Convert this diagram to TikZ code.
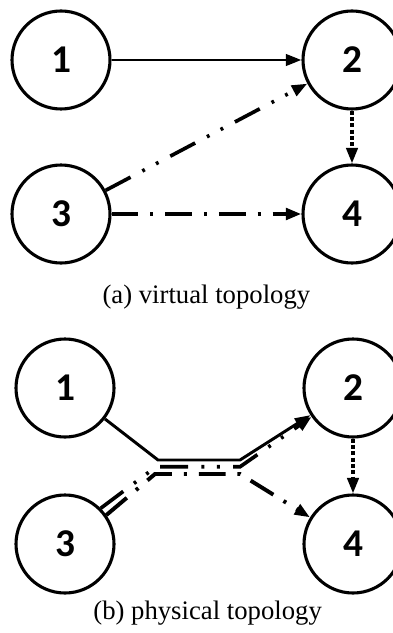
\documentclass[tikz,border=0pt]{standalone}
\usepackage{fontspec}
\setmainfont{Liberation Serif}
\newfontfamily\digitfont{Carlito}
\usetikzlibrary{arrows.meta}

\begin{document}
\begin{tikzpicture}[>={Triangle[length=11pt,width=8pt]},
		vertex/.style={draw, circle, line width=2.2pt, minimum size=2.45cm, inner sep=0pt,
			font=\digitfont\bfseries\fontsize{28}{32}\selectfont},
		link/.style={line width=2.1pt},
		dashdotdot/.style={link, line width=2.6pt, dash pattern=on 20pt off 9.5pt on 2pt off 9pt on 2pt off 9.5pt},
		dashdot/.style={link, line width=2.8pt, dash pattern=on 19pt off 8.5pt on 2.2pt off 8.5pt},
		shortdash/.style={link, line width=2.4pt, dash pattern=on 3pt off 1.5pt},
		caption/.style={font=\fontsize{19}{22}\selectfont}]
		
		\useasboundingbox (0,0) rectangle (9.825,-15.825);
		
		% Virtual topology
		\node[vertex] (v1) at (1.525,-1.5) {1};
		\node[vertex] (v2) at (8.8,-1.5) {2};
		\node[vertex] (v3) at (1.525,-5.35) {3};
		\node[vertex] (v4) at (8.8,-5.35) {4};
		\draw[link,->] (v1) -- (v2);
		\draw[dashdotdot,->] (v3) -- (v2);
		\draw[shortdash,->] (v2) -- (v4);
		\draw[dashdot,->] (v3) -- (v4);
		\node[caption] (capa) at (5.16,-7.425) {(a) virtual topology};
		
		% Physical topology
		\node[vertex] (p1) at (1.625,-9.7) {1};
		\node[vertex] (p2) at (8.825,-9.7) {2};
		\node[vertex] (p3) at (1.625,-13.6) {3};
		\node[vertex] (p4) at (8.825,-13.6) {4};
		\draw[link,->] (p1) -- (3.95,-11.5) -- (6.0,-11.5) -- (p2);
		\draw[dashdotdot,->] (p3.45) -- (3.9,-11.67) -- (6.0,-11.67) -- (p2);
		\draw[shortdash,->] (p2) -- (p4);
		\draw[dashdot,->] (p3.35) -- (3.875,-11.85) -- (6.0,-11.85) -- (p4);
		\node[caption] (capb) at (5.19,-15.325) {(b) physical topology};
		
	\end{tikzpicture}
\end{document}
